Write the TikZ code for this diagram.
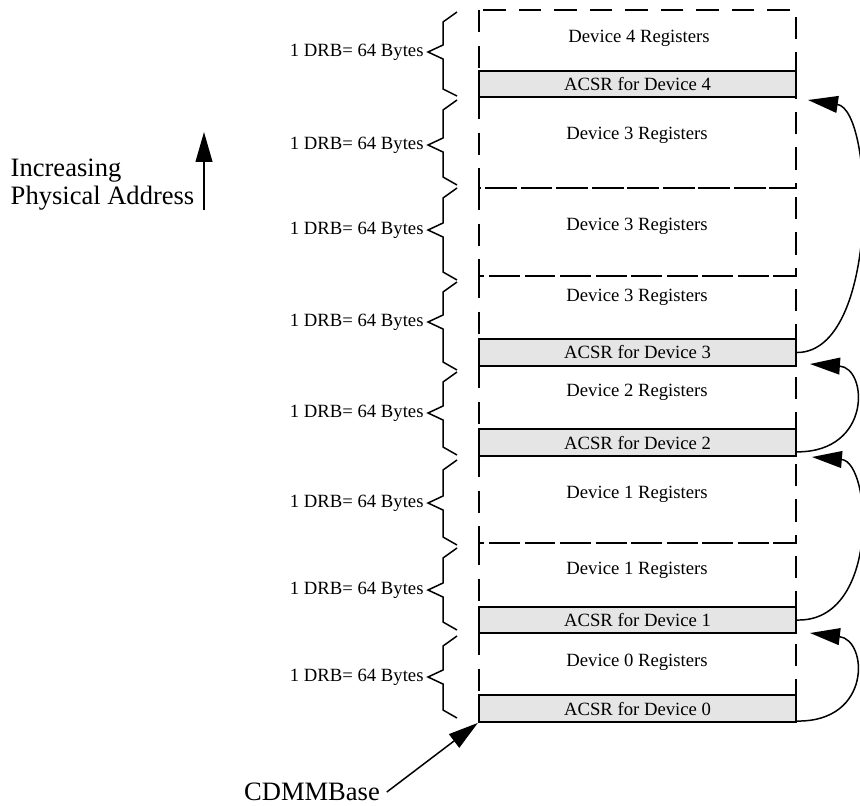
\documentclass[tikz,border=0pt]{standalone}
\usepackage{fontspec}
\setmainfont{Liberation Serif}
\usetikzlibrary{arrows.meta}
\begin{document}
\begin{tikzpicture}[x=0.535pt,y=-0.535pt,color=black,line width=0.8pt,
	region/.style={line width=1.4pt,dash pattern=on 12pt off 7pt},
	acsr/.style={draw,line width=1.2pt,fill=gray!20,minimum width=169.6pt,minimum height=14.2pt,inner sep=0pt},
	big/.style={font=\fontsize{14.2}{15}\selectfont},
	ptr/.style={-{Triangle[length=16pt,width=9pt]},line width=0.8pt}]
		\useasboundingbox (0,0) rectangle (860,805);
		\draw[region] (479,10) rectangle (796,97);
		\draw[region] (479,97) rectangle (796,188);
		\draw[region] (479,188) rectangle (796,276);
		\draw[region] (479,276) rectangle (796,366);
		\draw[region] (479,366) rectangle (796,455);
		\draw[region] (479,455) rectangle (796,543);
		\draw[region] (479,543) rectangle (796,633);
		\draw[region] (479,633) rectangle (796,722);
		\node[acsr] (acsr4) at (637.5,84) {ACSR for Device 4};
		\node[acsr] (acsr3) at (637.5,352.5) {ACSR for Device 3};
		\node[acsr] (acsr2) at (637.5,442.5) {ACSR for Device 2};
		\node[acsr] (acsr1) at (637.5,620) {ACSR for Device 1};
		\node[acsr] (acsr0) at (637.5,708.5) {ACSR for Device 0};
		\node (dev4) at (639,38) {Device 4 Registers};
		\node (dev3c) at (637,135) {Device 3 Registers};
		\node (dev3b) at (637,226) {Device 3 Registers};
		\node (dev3a) at (637,297) {Device 3 Registers};
		\node (dev2) at (637,392) {Device 2 Registers};
		\node (dev1b) at (637,494) {Device 1 Registers};
		\node (dev1a) at (637,570) {Device 1 Registers};
		\node (dev0) at (637,662) {Device 0 Registers};
		\draw (457,12) -- (443,22) -- (443,45) -- (428,52) node[left,inner sep=2pt] (drb8) {1 DRB= 64 Bytes} -- (443,59) -- (443,89) -- (457,96);
		\draw (457,100) -- (443,110) -- (443,138) -- (428,145) node[left,inner sep=2pt] (drb7) {1 DRB= 64 Bytes} -- (443,152) -- (443,177) -- (457,185);
		\draw (457,188) -- (443,198) -- (443,223) -- (428,230) node[left,inner sep=2pt] (drb6) {1 DRB= 64 Bytes} -- (443,237) -- (443,272) -- (457,280);
		\draw (457,282) -- (443,292) -- (443,315) -- (428,322) node[left,inner sep=2pt] (drb5) {1 DRB= 64 Bytes} -- (443,329) -- (443,362) -- (457,370);
		\draw (457,372) -- (443,382) -- (443,406) -- (428,413) node[left,inner sep=2pt] (drb4) {1 DRB= 64 Bytes} -- (443,420) -- (443,447) -- (457,455);
		\draw (457,460) -- (443,470) -- (443,496) -- (428,503) node[left,inner sep=2pt] (drb3) {1 DRB= 64 Bytes} -- (443,510) -- (443,537) -- (457,545);
		\draw (457,548) -- (443,558) -- (443,583) -- (428,590) node[left,inner sep=2pt] (drb2) {1 DRB= 64 Bytes} -- (443,597) -- (443,622) -- (457,630);
		\draw (457,636) -- (443,646) -- (443,670) -- (428,677) node[left,inner sep=2pt] (drb1) {1 DRB= 64 Bytes} -- (443,684) -- (443,710) -- (457,718);
		\node[big,align=left,anchor=west,inner sep=0pt] (incr) at (10,185) {Increasing\\Physical Address};
		\coordinate (upfoot) at (204,210);
		\coordinate (uphead) at (204,132);
		\draw[ptr] (upfoot) -- (uphead);
		\node[big] (base) at (312,792) {CDMMBase};
		\draw[ptr] (base.east) -- (acsr0.south west);
		\coordinate (top1) at (810,633);
		\coordinate (top2) at (812,457);
		\coordinate (top3) at (810,364);
		\coordinate (top4) at (808,100);
		\draw[ptr] ([yshift=1pt]acsr0.south east) .. controls (872,722) and (868,640) .. (top1);
		\draw[ptr] (acsr1.east) .. controls (880,622) and (872,462) .. (top2);
		\draw[ptr] ([yshift=2.7pt]acsr2.south east) .. controls (872,452) and (868,368) .. (top3);
		\draw[ptr] (acsr3.east) .. controls (880,352) and (875,110) .. (top4);
\end{tikzpicture}
\end{document}
